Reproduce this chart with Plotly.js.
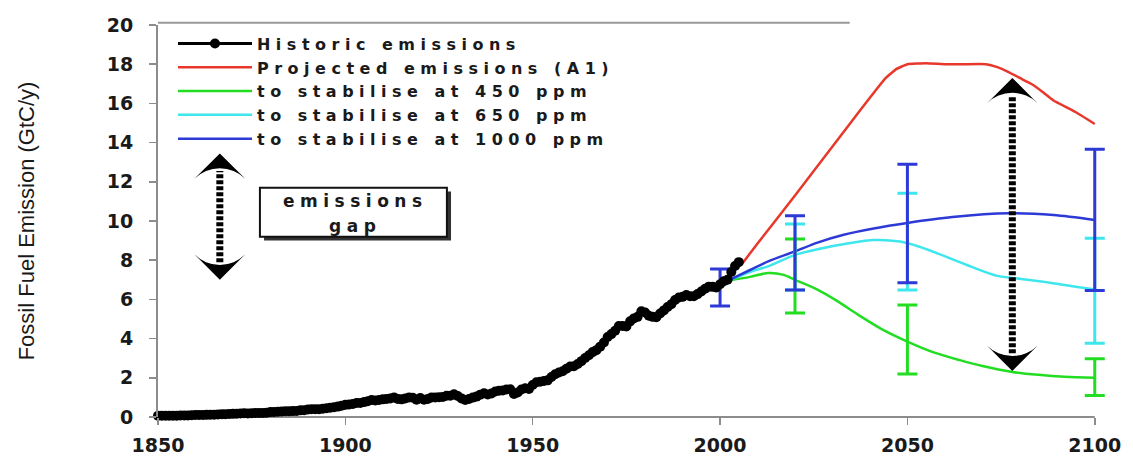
<!DOCTYPE html>
<html><head><meta charset="utf-8">
<script src="https://cdn.plot.ly/plotly-3.0.1.min.js"></script>
<style>
html,body{margin:0;padding:0;background:#fff;}
#chart{width:1133px;height:459px;}
.legendtext, .annotation-text{letter-spacing:5.5px;}
</style></head><body><div id="chart"></div><script>
// ---- Data (GtC per year) ----
const histStartYear = 1850;
const histValues = [
0.06,0.06,0.06,0.06,0.07,0.07,0.08,0.08,0.08,0.09,
0.10,0.10,0.10,0.11,0.12,0.12,0.13,0.14,0.14,0.15,
0.16,0.17,0.18,0.19,0.18,0.19,0.20,0.20,0.21,0.22,
0.25,0.26,0.27,0.28,0.29,0.29,0.30,0.31,0.34,0.35,
0.38,0.40,0.40,0.40,0.42,0.45,0.47,0.50,0.53,0.57,
0.62,0.64,0.66,0.71,0.72,0.76,0.80,0.87,0.84,0.87,
0.90,0.92,0.95,1.00,0.92,0.90,0.95,1.00,0.98,0.88,
0.97,0.88,0.92,1.00,1.00,1.01,1.02,1.08,1.09,1.16,
1.07,0.95,0.87,0.92,0.99,1.04,1.14,1.21,1.15,1.20,
1.30,1.34,1.35,1.40,1.42,1.17,1.25,1.40,1.47,1.43,
1.63,1.77,1.80,1.84,1.87,2.04,2.18,2.27,2.33,2.46,
2.58,2.59,2.70,2.85,3.01,3.15,3.31,3.41,3.59,3.80,
4.08,4.23,4.40,4.64,4.64,4.62,4.88,5.03,5.11,5.39,
5.33,5.17,5.11,5.09,5.28,5.44,5.61,5.75,5.97,6.10,
6.13,6.22,6.16,6.16,6.27,6.40,6.54,6.65,6.64,6.61,
6.77,6.93,7.00,7.40,7.70,7.90
];
const projYears = [2006,2010,2020,2030,2038,2044,2047,2050,2055,2060,2065,2071,2074,2077,2080,2083,2086,2089,2095,2100];
const projA1    = [7.85,8.85,11.3,13.8,15.8,17.25,17.75,18.0,18.05,18.0,18.0,18.0,17.85,17.6,17.3,17.0,16.6,16.15,15.55,14.95];

const s450Years = [2002,2008,2013,2017,2020,2026,2031,2037,2043,2050,2057,2064,2070,2078,2085,2092,2100];
const s450      = [6.95,7.15,7.35,7.25,7.0,6.5,5.95,5.2,4.5,3.85,3.3,2.9,2.6,2.3,2.15,2.05,2.0];

const s650Years = [2002,2008,2013,2020,2027,2034,2041,2048,2053,2058,2067,2074,2080,2088,2100];
const s650      = [6.95,7.4,7.7,8.27,8.6,8.85,9.03,8.95,8.7,8.35,7.67,7.2,7.05,6.85,6.5];

const s1000Years = [2002,2008,2013,2020,2026,2033,2041,2050,2062,2077,2089,2100];
const s1000      = [6.95,7.5,7.95,8.45,8.9,9.3,9.62,9.9,10.2,10.39,10.3,10.05];

// uncertainty ranges (low / high)
const barYears1000 = [2000,2020,2050,2100];
const bar1000Low   = [5.66,6.48,6.85,6.45];
const bar1000High  = [7.55,10.27,12.9,13.66];
const barYears650  = [2020,2050,2100];
const bar650Low    = [6.48,6.48,3.76];
const bar650High   = [9.85,11.41,9.12];
const barYears450  = [2020,2050,2100];
const bar450Low    = [5.3,2.19,1.1];
const bar450High   = [9.08,5.71,2.97];

// emissions-gap arrows: [year, bottom tip, top tip]
const gapArrowLeft  = [1866.5, 7.0, 13.45];
const gapArrowRight = [2078, 2.35, 17.3];

const xTicks = [1850,1900,1950,2000,2050,2100];
const legendNames = ['Historic emissions','Projected emissions (A1)','to stabilise at 450 ppm','to stabilise at 650 ppm','to stabilise at 1000 ppm'];
const boxText = ['emissions','gap'];
const yTitle = 'Fossil Fuel Emission (GtC/y)';

// ---- Build ----
const histYears = histValues.map((v,i)=>histStartYear+i);
const RED='#e8382c', GREEN='#22dd22', CYAN='#3ee6ee', BLUE='#2d3ad6';

function bars(xs, lo, hi, color){
  return {x:xs, y:lo, type:'scatter', mode:'markers', showlegend:false, hoverinfo:'skip', cliponaxis:false,
    marker:{size:1,color:'rgba(0,0,0,0)'},
    error_y:{type:'data', symmetric:false, array:hi.map((h,i)=>h-lo[i]), arrayminus:lo.map(()=>0),
      color:color, thickness:3, width:10}};
}
function arrow(a){
  return [
    {x:[a[0],a[0]], y:[a[1]+0.9,a[2]-0.9], type:'scatter', mode:'lines', showlegend:false, hoverinfo:'skip',
     line:{color:'#000', width:7, dash:'4px,2px'}},
    {x:[a[0],a[0]], y:[a[2],a[1]], type:'scatter', mode:'markers', showlegend:false, hoverinfo:'skip', cliponaxis:false,
     marker:{symbol:'arrow-wide', size:36, angle:[0,180], color:'#000', line:{width:0}}}
  ];
}

const traces = [
  {x:projYears, y:projA1, name:legendNames[1], legendrank:2, mode:'lines', line:{color:RED,width:2.5,shape:'spline',smoothing:0.3}},
  {x:s450Years, y:s450, name:legendNames[2], legendrank:3, mode:'lines', line:{color:GREEN,width:2.5,shape:'spline',smoothing:0.8}},
  {x:s650Years, y:s650, name:legendNames[3], legendrank:4, mode:'lines', line:{color:CYAN,width:2.5,shape:'spline',smoothing:0.8}},
  {x:s1000Years, y:s1000, name:legendNames[4], legendrank:5, mode:'lines', line:{color:BLUE,width:2.5,shape:'spline',smoothing:0.8}},
  bars(barYears650, bar650Low, bar650High, CYAN),
  bars(barYears450, bar450Low, bar450High, GREEN),
  bars(barYears1000, bar1000Low, bar1000High, BLUE),
  ...arrow(gapArrowLeft),
  ...arrow(gapArrowRight),
  {x:histYears, y:histValues, name:legendNames[0], legendrank:1, mode:'lines+markers', cliponaxis:false,
   line:{color:'#000',width:3}, marker:{color:'#000',size:10}}
];

const AXIS_GREY = '#8c8c8c';
const tickFont = {family:'DejaVu Sans', size:19, weight:'bold', color:'#1a1a1a'};
const layout = {
  width:1133, height:459,
  margin:{l:158,r:27,t:25,b:42},
  paper_bgcolor:'#fff', plot_bgcolor:'#fff',
  showlegend:true,
  legend:{x:0.0158, y:0.996, xanchor:'left', yanchor:'top', bgcolor:'rgba(0,0,0,0)',
    font:{family:'DejaVu Sans', size:16, weight:'bold', color:'#1a1a1a'}, itemwidth:74, tracegroupgap:0},
  xaxis:{range:[1850,2103], tickvals:xTicks, showgrid:false, zeroline:false, showline:false,
    ticks:'outside', ticklen:7, tickcolor:AXIS_GREY, tickwidth:1.5,
    tickfont:tickFont, ticklabelstandoff:4},
  yaxis:{range:[0,20], dtick:2, showgrid:false, zeroline:false, showline:true,
    linecolor:AXIS_GREY, linewidth:2, ticks:'outside', ticklen:7, tickcolor:AXIS_GREY, tickwidth:1.5,
    tickfont:tickFont, ticklabelstandoff:12,
    title:{text:yTitle, font:{family:'Liberation Sans', size:22, color:'#1a1a1a'}, standoff:66}},
  shapes:[
    {type:'line', xref:'x', yref:'paper', x0:xTicks[0], x1:xTicks[xTicks.length-1], y0:0, y1:0, layer:'below', line:{color:AXIS_GREY,width:2}},
    {type:'line', xref:'x', yref:'paper', x0:1850, x1:2034.6, y0:1.006, y1:1.006, line:{color:'#999',width:2}},
    {type:'rect', xref:'x', yref:'y', x0:1878.3, x1:1928.2, y0:9.0, y1:11.5, fillcolor:'#333', line:{width:0}},
    {type:'rect', xref:'x', yref:'y', x0:1877.2, x1:1927.1, y0:9.2, y1:11.7, fillcolor:'#fff', line:{color:'#111',width:2}}
  ],
  annotations:[
    {xref:'x', yref:'y', x:1902.6, y:11.0, text:boxText[0], showarrow:false,
     font:{family:'DejaVu Sans', size:17, weight:'bold', color:'#1a1a1a'}},
    {xref:'x', yref:'y', x:1902.6, y:9.75, text:boxText[1], showarrow:false,
     font:{family:'DejaVu Sans', size:17, weight:'bold', color:'#1a1a1a'}}
  ]
};
Plotly.newPlot('chart', traces, layout, {displayModeBar:false, staticPlot:true});
</script></body></html>
